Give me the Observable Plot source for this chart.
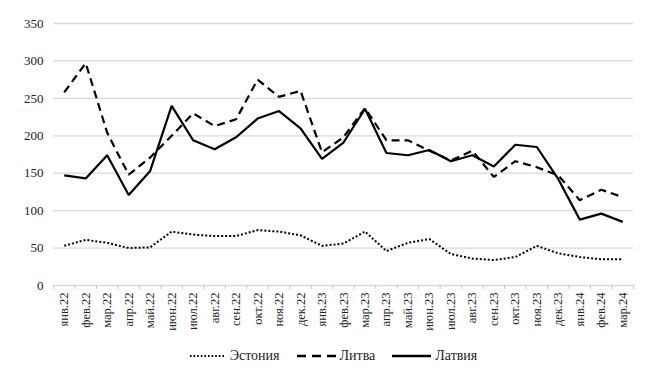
<!DOCTYPE html>
<html>
<head>
<meta charset="utf-8">
<script src="https://cdn.jsdelivr.net/npm/d3@7"></script>
<script src="https://cdn.jsdelivr.net/npm/@observablehq/plot@0.6"></script>
<style>
  html, body { margin: 0; padding: 0; background: #fff; }
  #chart { width: 654px; }
  .legend { display: flex; justify-content: center; align-items: center; gap: 17px; font-family: "Liberation Serif", serif; font-size: 14px; color: #222; height: 24px; margin-top: 4px; padding-left: 13px; }
  .legend span.item { display: inline-flex; align-items: center; gap: 4px; }
  .legend svg { display: block; }
  #chart svg text { font-family: "Liberation Serif", serif; }
</style>
</head>
<body>
<div id="chart"></div>
<script>
const months = ["янв.22","фев.22","мар.22","апр.22","май.22","июн.22","июл.22","авг.22","сен.22","окт.22","ноя.22","дек.22",
  "янв.23","фев.23","мар.23","апр.23","май.23","июн.23","июл.23","авг.23","сен.23","окт.23","ноя.23","дек.23",
  "янв.24","фев.24","мар.24"];
const estonia = [53,61,57,50,51,72,68,66,66,74,72,67,53,56,72,46,57,62,42,36,34,38,53,43,38,35,35];
const lithuania = [258,297,204,148,171,200,230,213,222,275,252,260,178,198,237,194,194,180,167,180,145,166,158,147,114,128,118];
const latvia = [147,143,174,121,153,240,194,182,198,223,233,210,169,191,236,177,174,181,166,174,159,188,185,142,88,96,85];
const yTicks = [0,50,100,150,200,250,300,350];

const series = [
  {name: "Эстония", values: estonia, dash: "2,2", width: 2, sw: 36, lw: 1.8, ldash: "1.6,2"},
  {name: "Литва", values: lithuania, dash: "8,5", width: 2.2, sw: 39, lw: 2.4, ldash: "9,6"},
  {name: "Латвия", values: latvia, dash: null, width: 2.2, sw: 39, lw: 2.4, ldash: null}
];
const rows = series.flatMap(s => s.values.map((v, i) => ({i, v, s: s.name})));

const chart = Plot.plot({
  width: 654,
  height: 340,
  marginTop: 23,
  marginBottom: 55,
  marginLeft: 53,
  marginRight: 21,
  style: {fontSize: "13px", color: "#222", background: "#fff"},
  x: {type: "linear", domain: [-0.5, months.length - 0.5]},
  y: {domain: [0, 350]},
  marks: [
    Plot.gridY(yTicks, {stroke: "#d9d9d9", strokeOpacity: 1, strokeWidth: 1.3}),
    Plot.axisY(yTicks, {tickSize: 0, tickPadding: 10, fontSize: 13, label: null}),
    Plot.axisX(d3.range(months.length + 1).map(i => i - 0.5), {tickSize: 4, stroke: "#c8c8c8", tickFormat: () => "", label: null}),
    Plot.axisX(d3.range(months.length), {tickSize: 0, tickPadding: 7, tickRotate: -90, tickFormat: i => months[i], label: null, fontSize: 12.5}),
    ...series.map(s => Plot.line(rows.filter(r => r.s === s.name), {x: "i", y: "v", stroke: "#000", strokeWidth: s.width, strokeDasharray: s.dash, strokeLinejoin: "miter", strokeLinecap: "butt"}))
  ]
});
document.getElementById("chart").appendChild(chart);

const legend = document.createElement("div");
legend.className = "legend";
for (const s of series) {
  const item = document.createElement("span");
  item.className = "item";
  const sw = `<svg width="${s.sw}" height="10"><line x1="0" x2="${s.sw}" y1="5" y2="5" stroke="#000" stroke-width="${s.lw}" ${s.ldash ? `stroke-dasharray="${s.ldash}"` : ""}/></svg>`;
  item.innerHTML = sw + `<span>${s.name}</span>`;
  legend.appendChild(item);
}
document.getElementById("chart").appendChild(legend);
</script>
</body>
</html>
